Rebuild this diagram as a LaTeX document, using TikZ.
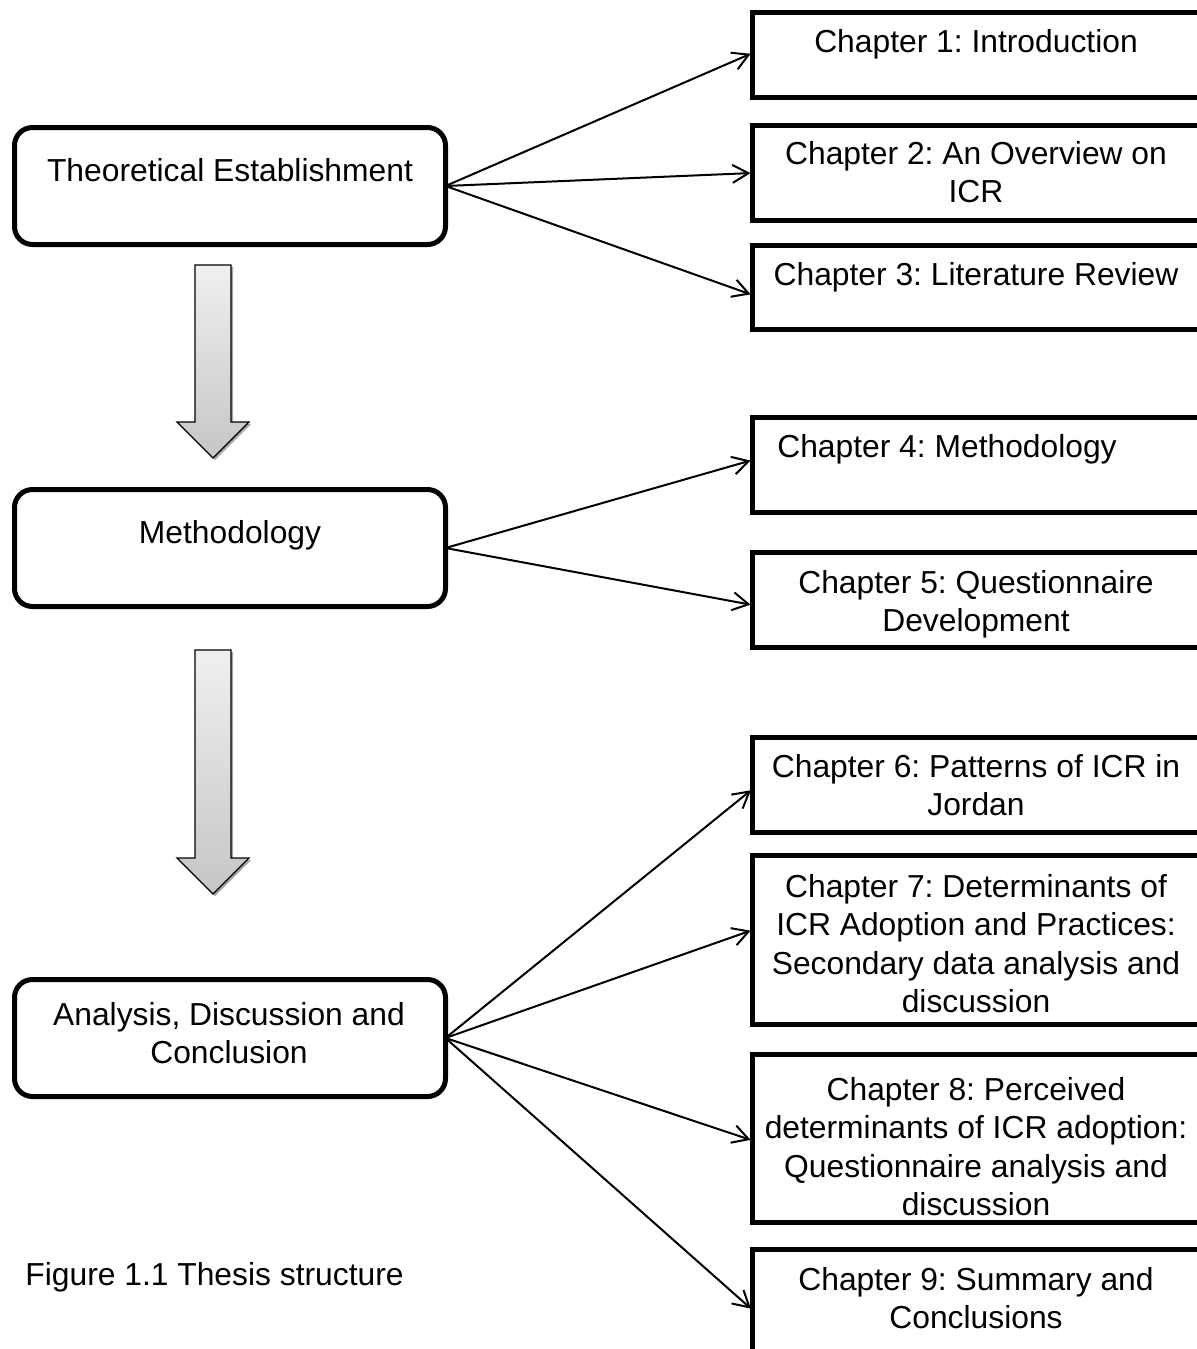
\documentclass[tikz,border=0pt]{standalone}
\usepackage{fontspec}
\setmainfont{Liberation Sans}
\usetikzlibrary{arrows.meta}
\frenchspacing
\begin{document}
\begin{tikzpicture}[x=0.5pt,y=-0.5pt,
  stage/.style={draw, line width=2.5pt, rounded corners=9pt, inner sep=0pt, outer sep=0pt,
    anchor=north west, minimum width=215.5pt, minimum height=58.5pt},
  chbox/.style={draw, line width=2.5pt, inner sep=0pt, outer sep=0pt,
    anchor=north west, minimum width=223.75pt},
  txt/.style={font=\fontsize{15.9}{19.15}\selectfont, align=center, inner sep=0pt, anchor=north},
  link/.style={-{Straight Barb[length=8pt,width=9pt]}, line width=1pt, shorten >=1pt},
  blockarrow/.style={draw=black, line width=0.6pt, top color=gray!12, bottom color=gray!45},
  blockshadow/.style={fill=black, fill opacity=0.35}
]
% page frame
\useasboundingbox (0,0) rectangle (1197,1349);

% stage boxes on the left
\node[stage] (theo) at (14.5,127.5) {};
\node[stage] (meth) at (14.5,489.5) {};
\node[stage] (anal) at (14.5,979.5) {};
\node[txt] (theoT) at (230,157) {\rule{0pt}{12pt}Theoretical Establishment};
\node[txt] (methT) at (230,519) {\rule{0pt}{12pt}Methodology};
\node[txt] (analT) at (229,1001) {\rule{0pt}{12pt}Analysis, Discussion and\\Conclusion};

% chapter boxes on the right
\node[chbox, minimum height=42.5pt] (ch1) at (752.5,12.5) {};
\node[chbox, minimum height=47.5pt] (ch2) at (752.5,125.5) {};
\node[chbox, minimum height=42pt]   (ch3) at (752.5,245.5) {};
\node[chbox, minimum height=47.5pt] (ch4) at (752.5,417.5) {};
\node[chbox, minimum height=47.5pt] (ch5) at (752.5,552.5) {};
\node[chbox, minimum height=47.5pt] (ch6) at (752.5,737.5) {};
\node[chbox, minimum height=84.5pt] (ch7) at (752.5,855.5) {};
\node[chbox, minimum height=84pt]   (ch8) at (752.5,1054.5) {};
\node[chbox, minimum height=70pt]   (ch9) at (752.5,1249.5) {};

\node[txt] (ch1T) at (976,28)   {\rule{0pt}{12pt}Chapter 1: Introduction};
\node[txt] (ch2T) at (976,140)  {\rule{0pt}{12pt}Chapter 2: An Overview on\\ICR};
\node[txt] (ch3T) at (976,261)  {\rule{0pt}{12pt}Chapter 3: Literature Review};
\node[txt] (ch4T) at (947,433)  {\rule{0pt}{12pt}Chapter 4: Methodology};
\node[txt] (ch5T) at (976,569)  {\rule{0pt}{12pt}Chapter 5: Questionnaire\\Development};
\node[txt] (ch6T) at (976,753)  {\rule{0pt}{12pt}Chapter 6: Patterns of ICR in\\Jordan};
\node[txt] (ch7T) at (976,873)  {\rule{0pt}{12pt}Chapter 7: Determinants of\\ICR Adoption and Practices:\\Secondary data analysis and\\discussion};
\node[txt] (ch8T) at (976,1076) {\rule{0pt}{12pt}Chapter 8: Perceived\\determinants of ICR adoption:\\Questionnaire analysis and\\discussion};
\node[txt] (ch9T) at (976,1266) {\rule{0pt}{12pt}Chapter 9: Summary and\\Conclusions};

% caption
\node[font=\fontsize{15.9}{19.15}\selectfont, anchor=base west, inner sep=0pt] (cap) at (25,1285) {Figure 1.1 Thesis structure};

% connectors
\draw[link] (theo.east) -- ([yshift=1pt]ch1.west);
\draw[link] (theo.east) -- (ch2.west);
\draw[link] (theo.east) -- ([yshift=-3.75pt]ch3.west);
\draw[link] (meth.east) -- ([yshift=2.5pt]ch4.west);
\draw[link] (meth.east) -- ([yshift=-2.5pt]ch5.west);
\draw[link] (anal.east) -- ([yshift=-2pt]ch6.west);
\draw[link] (anal.east) -- ([yshift=5pt]ch7.west);
\draw[link] (anal.east) -- ([yshift=-1pt]ch8.west);
\draw[link] (anal.east) -- (752.5,1310);

% block arrows between the stages
\fill[blockshadow] (197,267) -- (233,267) -- (233,424) -- (251,424) -- (215,460) -- (179,424) -- (197,424) -- cycle;
\path[blockarrow] (195,265) -- (231,265) -- (231,422) -- (249,422) -- (213,458) -- (177,422) -- (195,422) -- cycle;
\fill[blockshadow] (197,652) -- (233,652) -- (233,860) -- (251,860) -- (215,896) -- (179,860) -- (197,860) -- cycle;
\path[blockarrow] (195,650) -- (231,650) -- (231,858) -- (249,858) -- (213,894) -- (177,858) -- (195,858) -- cycle;
\end{tikzpicture}
\end{document}
